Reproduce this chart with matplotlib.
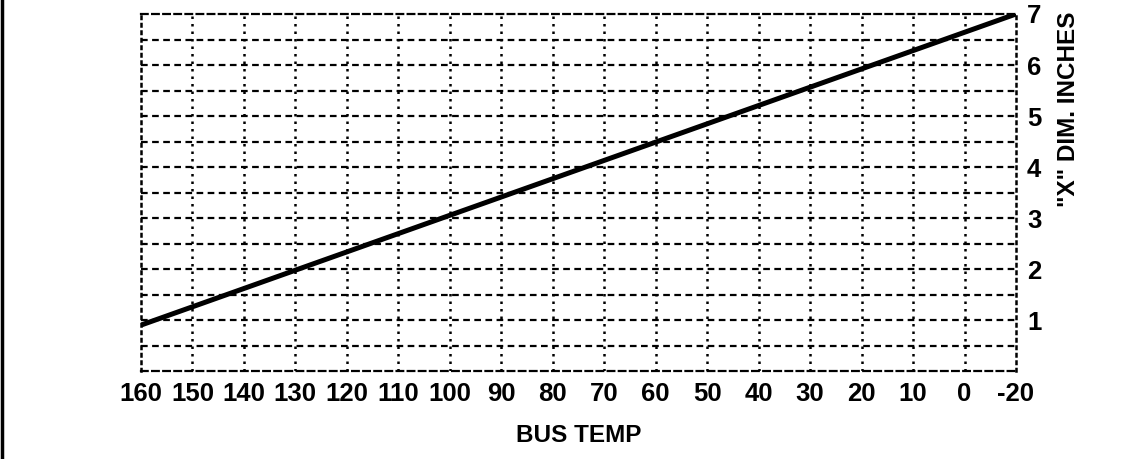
import numpy as np
import matplotlib.pyplot as plt
from matplotlib.lines import Line2D

# bus temperature tick labels (evenly spaced on the chart)
bus_temps = [160, 150, 140, 130, 120, 110, 100, 90, 80, 70, 60, 50, 40, 30, 20, 10, 0, -20]
# "X" dimension at the two ends of the curve
line_temps = [160, -20]
x_dim = [0.9, 7.0]
y_ticks = [1, 2, 3, 4, 5, 6, 7]

plt.rcParams['font.family'] = ['Liberation Sans', 'DejaVu Sans']
plt.rcParams['font.weight'] = 'bold'

fig = plt.figure(figsize=(11.24, 4.59), dpi=100)
ax = fig.add_axes([0.1254, 0.1917, 0.9039 - 0.1254, 0.9695 - 0.1917])

pos = np.arange(len(bus_temps))
line_pos = [bus_temps.index(t) for t in line_temps]

ax.set_xlim(pos[0], pos[-1])
ax.set_ylim(0, 7)

# dotted verticals, dashed horizontals every half inch
for p in pos[1:-1]:
    ax.axvline(p, color='black', lw=1.8, ls=(0, (1, 2)), zorder=1)
for y in np.arange(0.5, 7, 0.5):
    ax.axhline(y, color='black', lw=1.6, ls=(0, (3, 2)), zorder=1)

for side in ['top', 'bottom']:
    ax.spines[side].set_linestyle((0, (3, 2)))
    ax.spines[side].set_linewidth(1.6)
for side in ['left', 'right']:
    ax.spines[side].set_linestyle((0, (1, 2)))
    ax.spines[side].set_linewidth(1.8)

ax.plot(line_pos, x_dim, color='black', lw=3.6, solid_capstyle='butt', zorder=3)

ax.set_xticks(pos)
ax.set_xticklabels([str(t) for t in bus_temps], fontsize=18.5, fontweight='bold')
ax.yaxis.tick_right()
ax.set_yticks(y_ticks)
ax.set_yticklabels([str(v) for v in y_ticks], fontsize=18.5, fontweight='bold')
ax.tick_params(axis='both', length=0)
ax.tick_params(axis='x', pad=8)
ax.tick_params(axis='y', pad=8)

fig.text(0.5146, 0.052, 'BUS TEMP', ha='center', va='center', fontsize=17.5, fontweight='bold')
fig.text(0.951, 0.975, '"X" DIM. INCHES', ha='center', va='top', rotation=90,
         fontsize=17.5, fontweight='bold')

# page edge on the left
fig.add_artist(Line2D([0.0015, 0.0015], [0, 1], color='black', lw=2.5, transform=fig.transFigure))

fig.savefig('out.png', dpi=100)
